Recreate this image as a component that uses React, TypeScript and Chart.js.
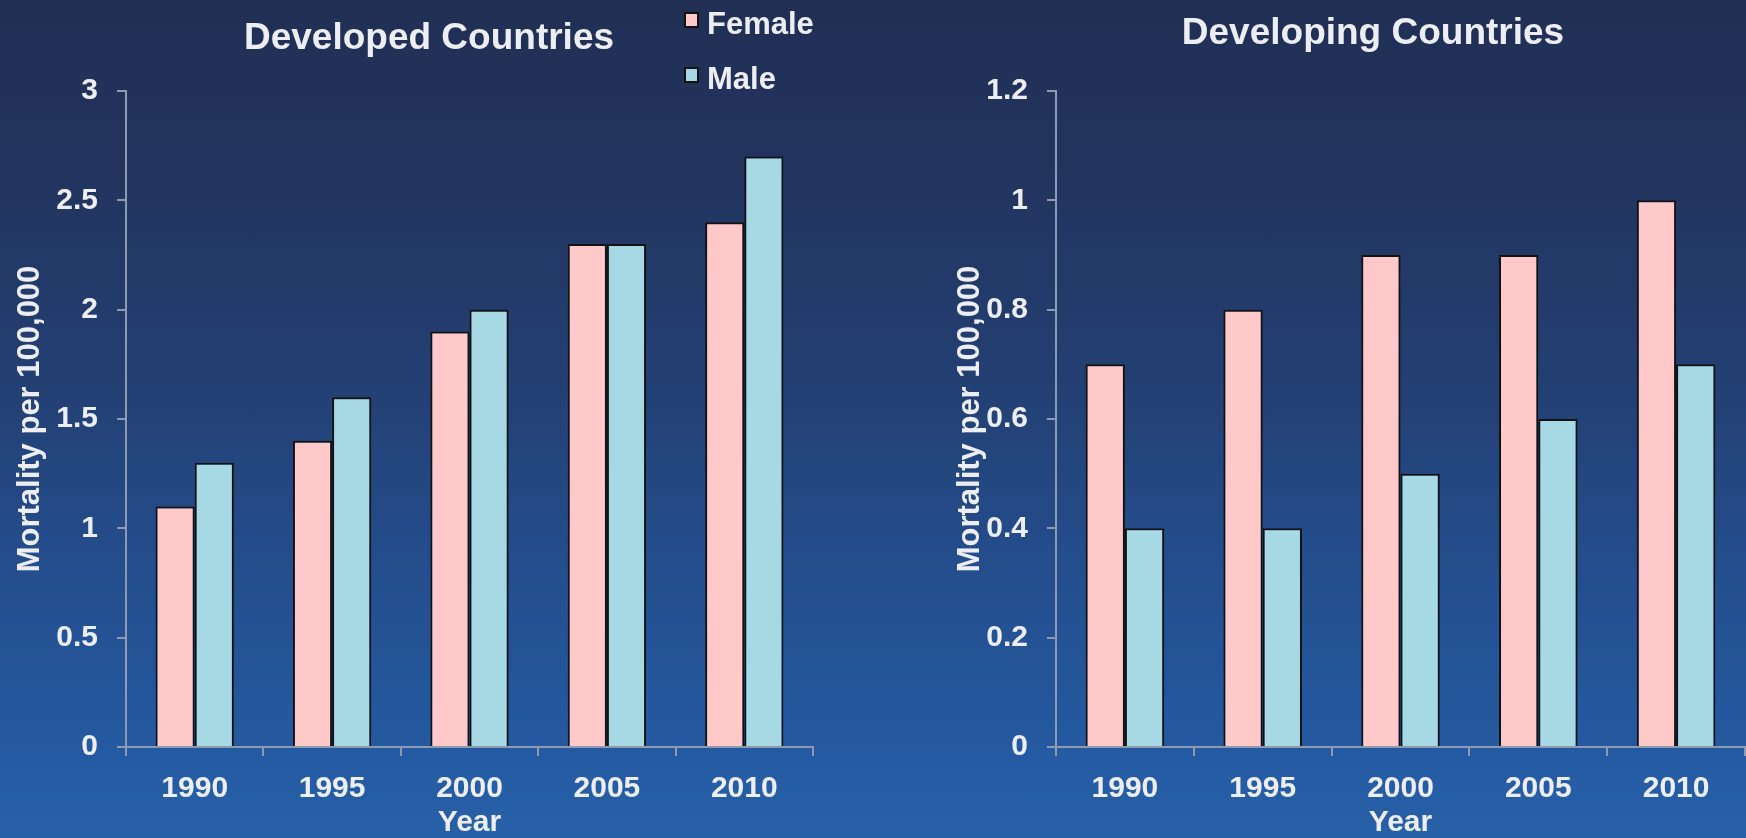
import React, { useEffect, useRef } from "react";
import { Chart, registerables } from "chart.js";

Chart.register(...registerables);

// Data
const years = ["1990", "1995", "2000", "2005", "2010"];
const seriesNames = ["Female", "Male"];
const developedFemale = [1.1, 1.4, 1.9, 2.3, 2.4];
const developedMale = [1.3, 1.6, 2.0, 2.3, 2.7];
const developingFemale = [0.7, 0.8, 0.9, 0.9, 1.0];
const developingMale = [0.4, 0.4, 0.5, 0.6, 0.7];
const developedAxis = [0, 3, 0.5]; // min, max, step
const developingAxis = [0, 1.2, 0.2];

// Styling
const FONT = "'Liberation Sans', Arial, Helvetica, sans-serif";
const TEXT = "#eceef3";
const AXIS = "#8d9ab0";
const FEMALE_FILL = "#ffc9c9";
const MALE_FILL = "#a7d9e5";
const BAR_EDGE = "#121212";
const H = 838;

type PanelProps = {
  left: number;
  width: number;
  yAxisWidth: number;
  yTitlePad: number;
  padRight: number;
  female: number[];
  male: number[];
  axis: number[];
};

// Trim trailing zeros: 3.0 -> "3", 0.50 -> "0.5"
const formatTick = (v: number | string) => `${+Number(v).toFixed(2)}`;

function Panel({ left, width, yAxisWidth, yTitlePad, padRight, female, male, axis }: PanelProps) {
  const ref = useRef<HTMLCanvasElement | null>(null);

  useEffect(() => {
    if (!ref.current) return;
    const tickFont = { family: FONT, size: 30, weight: "bold" as const };
    const chart = new Chart(ref.current, {
      type: "bar",
      data: {
        labels: years,
        datasets: [
          {
            label: seriesNames[0],
            data: female,
            backgroundColor: FEMALE_FILL,
            borderColor: BAR_EDGE,
            borderWidth: 2,
            barPercentage: 1,
            categoryPercentage: 0.57,
          },
          {
            label: seriesNames[1],
            data: male,
            backgroundColor: MALE_FILL,
            borderColor: BAR_EDGE,
            borderWidth: 2,
            barPercentage: 1,
            categoryPercentage: 0.57,
          },
        ],
      },
      options: {
        animation: false,
        responsive: false,
        layout: { padding: { top: 91, left: 0, right: padRight, bottom: 0 } },
        plugins: {
          legend: { display: false },
          title: { display: false },
          tooltip: { enabled: false },
        },
        scales: {
          x: {
            grid: {
              display: true,
              drawOnChartArea: false,
              drawTicks: true,
              tickLength: 9,
              color: AXIS,
              lineWidth: 2,
              offset: true,
            },
            border: { color: AXIS, width: 2 },
            ticks: { color: TEXT, font: tickFont, padding: 15, maxRotation: 0 },
            title: {
              display: true,
              text: "Year",
              color: TEXT,
              font: { ...tickFont, lineHeight: 1 },
              padding: { top: 0, bottom: 0 },
            },
            afterFit: (s: any) => {
              s.height = 91;
            },
          },
          y: {
            min: axis[0],
            max: axis[1],
            ticks: {
              stepSize: axis[2],
              color: TEXT,
              font: tickFont,
              padding: 19,
              callback: (v: number | string) => formatTick(v),
            },
            grid: {
              display: true,
              drawOnChartArea: false,
              drawTicks: true,
              tickLength: 9,
              color: AXIS,
              lineWidth: 2,
            },
            border: { color: AXIS, width: 2 },
            title: {
              display: true,
              text: "Mortality per 100,000",
              color: TEXT,
              font: { family: FONT, size: 31, weight: "bold" },
              padding: { top: yTitlePad, bottom: 0 },
            },
            afterFit: (s: any) => {
              s.width = yAxisWidth;
            },
          },
        },
      },
    });
    return () => chart.destroy();
  }, [left, width, yAxisWidth, yTitlePad, padRight, female, male, axis]);

  return (
    <canvas
      ref={ref}
      width={width}
      height={H}
      style={{ position: "absolute", left, top: 0, width, height: H }}
    />
  );
}

const titleStyle: React.CSSProperties = {
  position: "absolute",
  transform: "translateX(-50%)",
  whiteSpace: "nowrap",
  fontFamily: FONT,
  fontWeight: "bold",
  fontSize: 37,
  lineHeight: "37px",
  color: TEXT,
};

const legendText: React.CSSProperties = {
  position: "absolute",
  fontFamily: FONT,
  fontWeight: "bold",
  fontSize: 31,
  lineHeight: "31px",
  color: TEXT,
  whiteSpace: "nowrap",
};

function Legend() {
  const fills = [FEMALE_FILL, MALE_FILL];
  const rows = [12, 67];
  return (
    <>
      {seriesNames.map((name, i) => (
        <React.Fragment key={name}>
          <div
            style={{
              position: "absolute",
              left: 684,
              top: rows[i],
              width: 11,
              height: 12,
              background: fills[i],
              border: `2px solid ${BAR_EDGE}`,
            }}
          />
          <div style={{ ...legendText, left: 707, top: rows[i] - 4 }}>{name}</div>
        </React.Fragment>
      ))}
    </>
  );
}

export default function App() {
  return (
    <div
      style={{
        position: "fixed",
        left: 0,
        top: 0,
        width: 1746,
        height: H,
        overflow: "hidden",
        background:
          "linear-gradient(180deg, #212f54 0%, #22345e 20%, #233f72 45%, #244c8a 65%, #2459a0 88%, #2761a8 100%)",
      }}
    >
      <Panel
        left={0}
        width={873}
        yAxisWidth={126}
        yTitlePad={12}
        padRight={60}
        female={developedFemale}
        male={developedMale}
        axis={developedAxis}
      />
      <Panel
        left={873}
        width={873}
        yAxisWidth={183}
        yTitlePad={79}
        padRight={1}
        female={developingFemale}
        male={developingMale}
        axis={developingAxis}
      />
      <div style={{ ...titleStyle, left: 429, top: 18 }}>Developed Countries</div>
      <div style={{ ...titleStyle, left: 1373, top: 13 }}>Developing Countries</div>
      <Legend />
    </div>
  );
}
